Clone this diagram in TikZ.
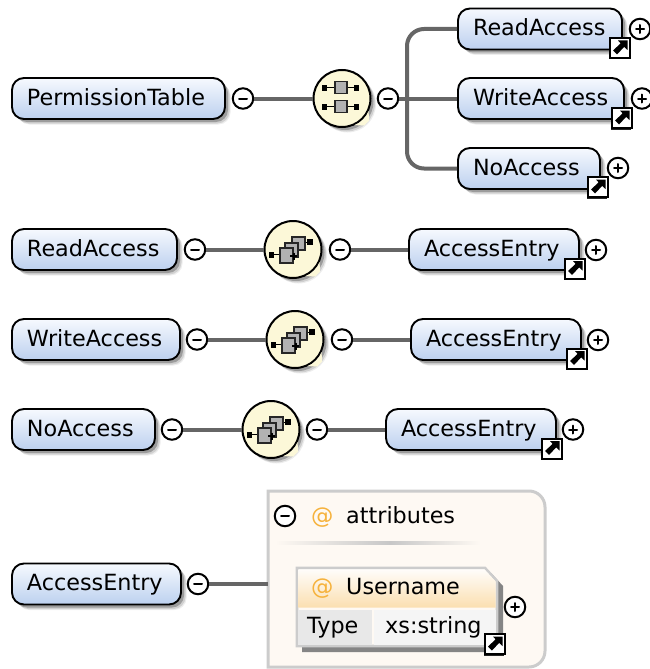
\documentclass[tikz,border=0pt]{standalone}
\usepackage{fontspec}
\setmainfont{DejaVu Sans}
\usetikzlibrary{shadows,calc}
\definecolor{lineg}{HTML}{666666}
\definecolor{blue1}{HTML}{F6F9FE}
\definecolor{blue2}{HTML}{BCD0EF}
\definecolor{seqy}{HTML}{FCF8D8}
\definecolor{atfill}{HTML}{FEF9F3}
\definecolor{atline}{HTML}{CCCCCC}
\definecolor{orng}{HTML}{F6B23C}
\definecolor{hdr}{HTML}{FBDFB0}
\tikzset{
  softshadow/.style={
    general shadow={shadow xshift=5.5pt,shadow yshift=-5.5pt,fill=black,opacity=.07},
    general shadow={shadow xshift=4.5pt,shadow yshift=-4.5pt,fill=black,opacity=.12},
    general shadow={shadow xshift=3pt,shadow yshift=-3pt,fill=black,opacity=.25}},
  elem/.style={draw=black,line width=1.9pt,rounded corners=12pt,softshadow,
    top color=blue1,bottom color=blue2,minimum height=41pt,inner ysep=0pt,
    inner xsep=15pt,align=left,text height=15pt,text depth=2pt,font=\fontsize{22.3}{26}\selectfont,text=black},
  conn/.style={draw=lineg,line width=4pt},
  btn/.style={circle,draw=black,line width=2pt,fill=white,minimum size=20.5pt,inner sep=0pt},
  glyphline/.style={line width=2pt,line cap=round},
  seqcircle/.style={circle,draw=black,line width=2pt,fill=seqy,minimum size=57pt,inner sep=0pt,softshadow},
  linkbox/.style={draw=black,line width=2pt,fill=white,minimum size=20pt,inner sep=0pt,
    general shadow={shadow xshift=-1.5pt,shadow yshift=-1.5pt,fill=black,opacity=.85}},
  plainlabel/.style={inner sep=0pt,anchor=base west,font=\fontsize{22.3}{26}\selectfont,text=black},
  atsign/.style={inner sep=0pt,anchor=base west,font=\fontsize{22.3}{26}\selectfont,text=orng},
  glyphbox/.style={fill=black!30,draw=black!85,line width=1.2pt},
}
\newcommand{\elembox}[5]{%
  \pgfmathsetmacro{\bw}{#3-#2}\pgfmathsetmacro{\bx}{(#2+#3)/2}\pgfmathsetmacro{\tw}{#3-#2-30}%
  \node[elem,minimum width=\bw pt,text width=\tw pt] (#1) at (\bx,#4) {\mbox{#5}};}
\newcommand{\minusbtn}[3]{\node[btn] (#1) at (#2,#3) {};
  \draw[glyphline] ($(#2,#3)+(-4,0)$) -- ($(#2,#3)+(4,0)$);}
\newcommand{\plusbtn}[3]{\node[btn] (#1) at (#2,#3) {};
  \draw[glyphline] ($(#2,#3)+(-4,0)$) -- ($(#2,#3)+(4,0)$);
  \draw[glyphline] ($(#2,#3)+(0,-4)$) -- ($(#2,#3)+(0,4)$);}
\newcommand{\linkicon}[3]{\node[linkbox] (#1) at (#2,#3) {};
  \fill[black,shift={(#2,#3)}] (-2,-7.5) -- (7.5,-7.5) -- (7.5,2) -- (4.2,-1.2) -- (-3,6.5) -- (-7,2.5) -- (0.6,-4.6) -- cycle;}
\newcommand{\seqpatch}[2]{\fill[seqy,shift={(#1,#2)}] (26.6,12.4) .. controls (24.5,18.5) and (18.5,24.5) .. (12.4,26.6) -- (22,27) -- (27,22) -- cycle;}
\newcommand{\allglyph}[2]{\seqpatch{#1}{#2}\begin{scope}[shift={(#1,#2)}]
  \foreach \yy in {-11,8}{
    \draw[line width=1.8pt] (-17,\yy) -- (-7,\yy);
    \draw[line width=1.8pt] (5,\yy) -- (14,\yy);
    \fill (-20,\yy-3) rectangle (-15,\yy+3);
    \fill (12,\yy-3) rectangle (17,\yy+3);
    \draw[glyphbox] (-7,\yy-6) rectangle (5,\yy+6);
  }
\end{scope}}
\newcommand{\seqglyph}[2]{\seqpatch{#1}{#2}\begin{scope}[shift={(#1,#2)}]
  \draw[line width=1.8pt] (-20,5) -- (-13,5);
  \fill (-24,2) rectangle (-19,8);
  \draw[line width=1.8pt] (11,-7) -- (17,-7);
  \fill (14,-10.5) rectangle (20,-4.5);
  \draw[glyphbox] (-1,-12.5) rectangle (12,0.5);
  \draw[glyphbox] (-8,-6.5) rectangle (5,7.5);
  \draw[glyphbox] (-13,-1.5) rectangle (0,13.5);
  \draw[line width=1.5pt] (-3,6.5) -- (4,6.5);
  \draw[line width=1.5pt] (1,3) -- (1,10);
\end{scope}}
\begin{document}
\begin{tikzpicture}[x=1pt,y=-1pt]
\useasboundingbox (0,0) rectangle (650,669);
% Row 1
\elembox{pt}{12}{225}{98.5}{PermissionTable}
\minusbtn{ptm}{243}{98.5}
\node[seqcircle] (all) at (342,98.5) {};
\allglyph{342}{98.5}
\minusbtn{allm}{388}{98.5}
\coordinate (bus) at (407,98.5);
\elembox{ra}{458}{622}{29}{ReadAccess}
\elembox{wa}{458}{624}{98.5}{WriteAccess}
\elembox{na}{458}{600}{168.5}{NoAccess}
\draw[conn] (ptm) -- (all);
\draw[conn] (allm) -- (wa.west);
\draw[conn,rounded corners=17pt] (ra.west) -| (bus) |- (na.west);
\plusbtn{rap}{640}{29}\linkicon{ral}{620}{48}
\plusbtn{wap}{642}{98.5}\linkicon{wal}{622}{118}
\plusbtn{nap}{618}{168}\linkicon{nal}{598}{187}
% Row ReadAccess
\elembox{rb}{12}{177}{249.5}{ReadAccess}
\minusbtn{rbm}{195}{249.5}
\node[seqcircle] (s1) at (293,249.5) {};
\seqglyph{293}{249.5}
\minusbtn{s1m}{340}{249.5}
\elembox{e1}{409}{579}{249.5}{AccessEntry}
\draw[conn] (rbm) -- (s1);
\draw[conn] (s1m) -- (e1.west);
\plusbtn{e1p}{596}{250}\linkicon{e1l}{575}{268.5}
% Row WriteAccess
\elembox{wb}{12}{180}{339.5}{WriteAccess}
\minusbtn{wbm}{197}{339.5}
\node[seqcircle] (s2) at (295,339.5) {};
\seqglyph{295}{339.5}
\minusbtn{s2m}{342}{339.5}
\elembox{e2}{411}{581}{339.5}{AccessEntry}
\draw[conn] (wbm) -- (s2);
\draw[conn] (s2m) -- (e2.west);
\plusbtn{e2p}{598}{340}\linkicon{e2l}{577}{358.5}
% Row NoAccess
\elembox{nb}{12}{155}{429.5}{NoAccess}
\minusbtn{nbm}{172}{429.5}
\node[seqcircle] (s3) at (271,429.5) {};
\seqglyph{271}{429.5}
\minusbtn{s3m}{317}{429.5}
\elembox{e3}{386}{556}{429.5}{AccessEntry}
\draw[conn] (nbm) -- (s3);
\draw[conn] (s3m) -- (e3.west);
\plusbtn{e3p}{573}{429.5}\linkicon{e3l}{552}{448.5}
% Row AccessEntry
\elembox{ab}{12}{181}{584}{AccessEntry}
\minusbtn{abm}{198}{584}
\filldraw[fill=atfill,draw=atline,line width=3pt]
  (268,491) [rounded corners=16pt] -- (545,491) -- (545,667) [sharp corners] -- (268,667) -- cycle;
\node[inner sep=0pt,minimum width=277pt,minimum height=176pt] (attr) at (406.5,579) {};
\draw[conn] (abm) -- (attr.west |- abm);
\minusbtn{atm}{285}{516}
\node[atsign] (at1) at (311,523) {@};
\node[plainlabel] (attrtxt) at (346,523) {attributes};
\shade[left color=atfill,right color=black!22] (275,541.5) rectangle (390,544.5);
\shade[left color=black!22,right color=atfill] (390,541.5) rectangle (480,544.5);
% Username
\fill[black!48] (302,573) -- (491,573) -- (503,586) -- (503,652) -- (302,652) -- cycle;
\filldraw[fill=atfill,draw=atline,line width=2.6pt] (297,568) -- (485,568) -- (497,581) -- (497,646) -- (297,646) -- cycle;
\shade[top color=white!60!atfill,bottom color=hdr] (298.3,569.3) -- (484.4,569.3) -- (495.7,581.5) -- (495.7,607.5) -- (298.3,607.5) -- cycle;
\fill[black!9] (298.3,609.5) rectangle (372,644.7);
\fill[black!4] (374,609.5) rectangle (495.7,644.7);
\node[atsign] (at2) at (311,594) {@};
\node[plainlabel] (untxt) at (346,594) {Username};
\node[plainlabel] (ty) at (307,633) {Type};
\node[plainlabel] (xs) at (385,633) {xs:string};
\plusbtn{up}{515}{607}\linkicon{ul}{495}{644}
\end{tikzpicture}
\end{document}
